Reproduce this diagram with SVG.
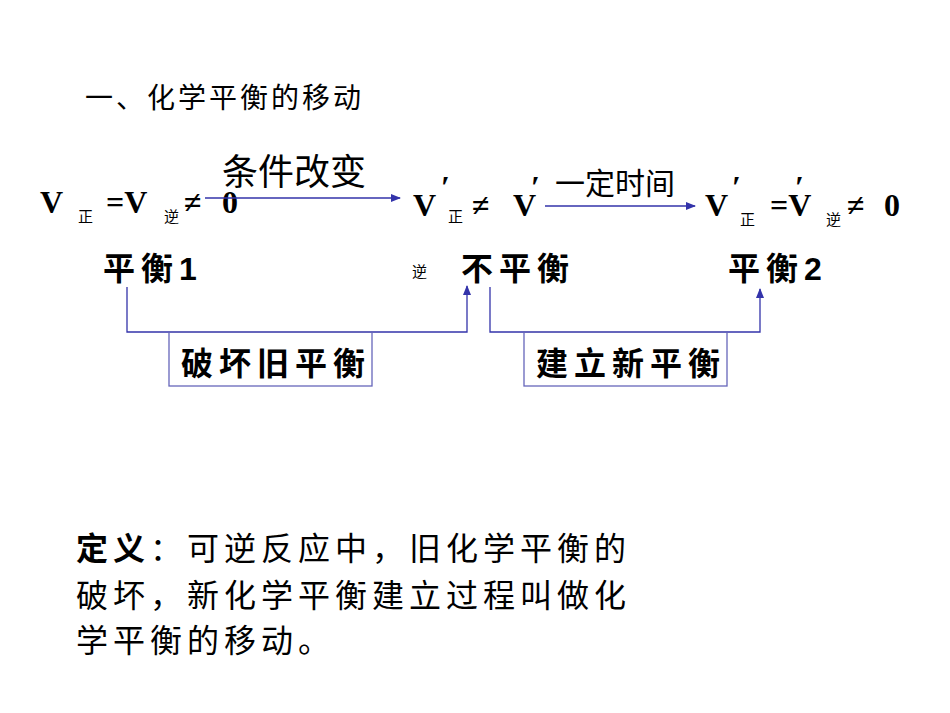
<svg xmlns="http://www.w3.org/2000/svg" width="950" height="713" viewBox="0 0 950 713">
<defs>
<style>
.v{font-family:"Liberation Serif",serif;font-weight:bold;font-size:32px;fill:#000}
.s{font-family:"Noto Sans CJK SC",sans-serif;font-size:15px;fill:#000}
.c{font-family:"Liberation Sans","Noto Sans CJK SC",sans-serif;font-weight:bold;font-size:32px;fill:#000;letter-spacing:6px}
.t{font-family:"Liberation Sans","Noto Sans CJK SC",sans-serif;fill:#000}
.ln{fill:none;stroke:#3333aa;stroke-width:1.3}
.bx{fill:none;stroke:#6666bb;stroke-width:1.3}
</style>
<marker id="a" markerWidth="10" markerHeight="8" refX="9" refY="4" orient="auto" markerUnits="userSpaceOnUse"><path d="M0,0 L10,4 L0,8z" fill="#3333aa"/></marker>
</defs>
<text class="t" x="85" y="108" font-size="28" letter-spacing="3">一、化学平衡的移动</text>
<g id="eq1">
<text class="v" x="40" y="213">V</text><text class="s" x="78" y="222">正</text>
<text class="v" x="106" y="213">=V</text><text class="s" x="164" y="222">逆</text>
<text class="v" x="184" y="213" font-size="36">≠</text><text class="v" x="222" y="213">0</text>
<text class="c" x="103" y="280">平衡1</text>
</g>
<g id="eq2">
<text class="v" x="413" y="216">V</text><text class="v" x="441" y="198" font-size="28">′</text><text class="s" x="448" y="222">正</text>
<text class="v" x="472" y="216" font-size="36">≠</text><text class="v" x="513" y="216">V</text><text class="v" x="531" y="198" font-size="28">′</text>
<text class="s" x="412" y="277">逆</text>
<text class="c" x="461" y="280">不平衡</text>
</g>
<g id="eq3">
<text class="v" x="705" y="216">V</text><text class="v" x="732" y="198" font-size="28">′</text><text class="s" x="740" y="225">正</text>
<text class="v" x="770" y="216">=V</text><text class="v" x="795" y="198" font-size="28">′</text><text class="s" x="826" y="225">逆</text>
<text class="v" x="847" y="216" font-size="36">≠</text><text class="v" x="884" y="216">0</text>
<text class="c" x="728" y="280">平衡2</text>
</g>
<g id="connectors">
<line class="ln" x1="205" y1="198" x2="400" y2="198" marker-end="url(#a)"/>
<text class="t" x="222" y="185" font-size="36">条件改变</text>
<line class="ln" x1="545" y1="206" x2="695" y2="206" marker-end="url(#a)"/>
<text class="t" x="555" y="194" font-size="30">一定时间</text>
<polyline class="ln" points="127,287 127,332 467,332 467,286" marker-end="url(#a)"/>
<polyline class="ln" points="490,287 490,332 760,332 760,289" marker-end="url(#a)"/>
</g>
<g id="box1"><rect class="bx" x="169" y="332" width="203" height="54"/><text class="c" x="181" y="375">破坏旧平衡</text></g>
<g id="box2"><rect class="bx" x="524" y="332" width="203" height="54"/><text class="c" x="536" y="375">建立新平衡</text></g>
<g id="def">
<text class="t" x="76" y="560" font-size="32" letter-spacing="5"><tspan font-weight="bold">定义</tspan>：可逆反应中，旧化学平衡的</text>
<text class="t" x="76" y="607" font-size="32" letter-spacing="5">破坏，新化学平衡建立过程叫做化</text>
<text class="t" x="76" y="652" font-size="32" letter-spacing="5">学平衡的移动。</text>
</g>
</svg>
